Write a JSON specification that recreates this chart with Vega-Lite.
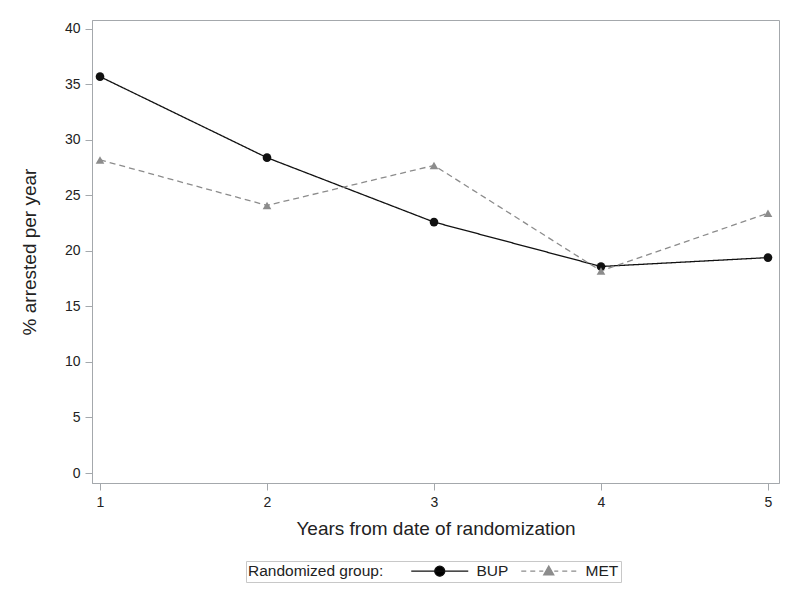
{
  "$schema": "https://vega.github.io/schema/vega-lite/v6.json",
  "autosize": "none",
  "width": 687,
  "height": 463,
  "padding": {"left": 92, "top": 20, "right": 21, "bottom": 119},
  "background": "white",
  "config": {
    "font": "Liberation Sans",
    "view": {"stroke": "#A4A8AC", "strokeWidth": 1},
    "axis": {"domainColor": "#A4A8AC", "tickColor": "#A4A8AC", "grid": false, "labelColor": "#222", "titleColor": "#222", "labelFont": "Liberation Sans", "titleFont": "Liberation Sans", "labelFontSize": 14, "titleFontSize": 19, "titleFontWeight": "normal", "tickSize": 7},
    "legend": {"orient": "none", "legendX": 154, "legendY": 541, "direction": "horizontal", "titleOrient": "left", "strokeColor": "#C8C8C8", "padding": 2, "titleFontSize": 15.5, "titleFontWeight": "normal", "labelFontSize": 15.5, "labelColor": "#222", "titleColor": "#222", "symbolSize": 100, "symbolStrokeWidth": 1.3, "labelOffset": 29, "columnPadding": 9, "titlePadding": 48, "symbolOpacity": 1}
  },
  "data": {"values": [
    {"year": 1, "pct": 35.7, "group": "BUP"},
    {"year": 2, "pct": 28.4, "group": "BUP"},
    {"year": 3, "pct": 22.6, "group": "BUP"},
    {"year": 4, "pct": 18.6, "group": "BUP"},
    {"year": 5, "pct": 19.4, "group": "BUP"},
    {"year": 1, "pct": 28.2, "group": "MET"},
    {"year": 2, "pct": 24.1, "group": "MET"},
    {"year": 3, "pct": 27.7, "group": "MET"},
    {"year": 4, "pct": 18.2, "group": "MET"},
    {"year": 5, "pct": 23.4, "group": "MET"}
  ]},
  "encoding": {
    "x": {"field": "year", "type": "quantitative", "scale": {"domain": [0.952, 5.066], "nice": false, "zero": false},
      "axis": {"values": [1, 2, 3, 4, 5], "format": "d", "title": "Years from date of randomization", "labelPadding": 5, "titlePadding": 10}},
    "y": {"field": "pct", "type": "quantitative", "scale": {"domain": [-0.9, 40.8], "nice": false, "zero": false},
      "axis": {"values": [0, 5, 10, 15, 20, 25, 30, 35, 40], "title": "% arrested per year", "labelPadding": 5, "titlePadding": 25}}
  },
  "layer": [
    {"mark": {"type": "line", "strokeWidth": 1.3},
      "encoding": {
        "color": {"field": "group", "type": "nominal", "scale": {"domain": ["BUP", "MET"], "range": ["#111111", "#8C8C8C"]}, "legend": null},
        "strokeDash": {"field": "group", "type": "nominal", "scale": {"domain": ["BUP", "MET"], "range": [[1, 0], [6, 4]]}, "legend": null}}},
    {"mark": {"type": "point", "filled": true, "opacity": 1, "size": 75},
      "encoding": {
        "color": {"field": "group", "type": "nominal", "legend": null},
        "shape": {"field": "group", "type": "nominal", "scale": {"domain": ["BUP", "MET"], "range": ["circle", "triangle-up"]}, "legend": null}}},
    {"transform": [{"filter": "datum.year > 99"}],
      "mark": {"type": "point", "filled": true, "opacity": 1, "strokeWidth": 1.3},
      "encoding": {
        "shape": {"field": "group", "type": "nominal", "scale": {"domain": ["BUP", "MET"], "range": ["M-5.7,0H5.7M-1,0A1,1 0 1,0 1,0A1,1 0 1,0 -1,0Z", "M-5.5,0H-4.5M-3.7,0H-2.7M-1.9,0H-1.1M1.1,0H1.9M2.7,0H3.7M4.5,0H5.5M0,-1L1,0.75L-1,0.75Z"]}, "legend": {"title": "Randomized group:"}},
        "fill": {"field": "group", "type": "nominal", "scale": {"domain": ["BUP", "MET"], "range": ["#000000", "#8C8C8C"]}, "legend": {"title": "Randomized group:"}},
        "stroke": {"field": "group", "type": "nominal", "scale": {"domain": ["BUP", "MET"], "range": ["#111111", "#8C8C8C"]}, "legend": {"title": "Randomized group:"}}}}
  ],
  "resolve": {"scale": {"shape": "independent", "fill": "independent", "stroke": "independent"}}
}
